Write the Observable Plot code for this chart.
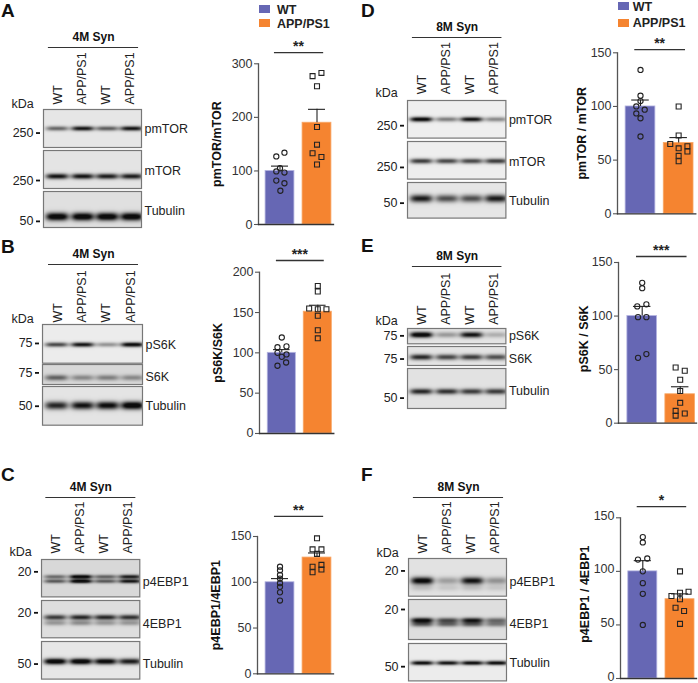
<!DOCTYPE html>
<html><head><meta charset="utf-8">
<script src="https://cdn.jsdelivr.net/npm/d3@7"></script>
<script src="https://cdn.jsdelivr.net/npm/@observablehq/plot@0.6"></script>
<style>
html,body{margin:0;padding:0;background:#fff}
#root{position:relative;width:698px;height:683px;overflow:hidden;font-family:"Liberation Sans",Arial,sans-serif;color:#222}
#root svg{overflow:visible;position:absolute;background:none}
.letter{position:absolute;font-weight:700;font-size:19px;line-height:20px;transform:translateY(-50%);color:#111}
.leg{position:absolute;font-weight:700;font-size:12.5px;line-height:14px;transform:translateY(-50%);color:#222}
.sw{position:absolute;width:11px;height:8px}
</style></head><body><div id="root"></div>
<script>
const genotypes = ["WT", "APP/PS1"];
const barColors = ["#6667b4", "#f58430"];
const barEdges = ["#b4b4e0", "#f8a868"];
const laneNames = ["WT", "APP/PS1", "WT", "APP/PS1"];
const laneLabelPos = [0.15, 0.39, 0.635, 0.88];
const laneCentres = [0.14, 0.40, 0.65, 0.90];

// bar heights, error tops, individual animals (value, sideways jitter in group steps)
const aMeans = [100, 190], aErr = [109, 215];
const aWt = [127, 134, 105, 99, 97, 82, 77, 63], aWtJ = [-.1, .12, 0, -.1, .12, -.1, .12, .01];
const aApp = [277, 283, 258, 182, 149, 133, 126, 112], aAppJ = [-.12, .12, 0, 0, 0, -.12, .12, 0];
const bMeans = [100, 151], bErr = [104, 159];
const bWt = [119, 107, 108, 100, 98, 84, 88, 95], bWtJ = [0, -.12, .13, -.12, .13, -.12, .12, 0];
const bApp = [183, 176, 155, 154, 154, 146, 128, 118], bAppJ = [0, 0, -.24, 0, .24, 0, 0, 0];
const cMeans = [100, 127], cErr = [104, 132];
const cWt = [117, 113, 108, 104, 99, 95, 89, 80], cWtJ = [0, 0, 0, 0, 0, 0, 0, 0];
const cApp = [148, 136, 136, 131, 117, 111, 119, 114], cAppJ = [0, -.12, .12, 0, -.12, -.12, .12, .12];
const dMeans = [100, 66], dErr = [106, 71];
const dWt = [134, 110, 105, 100, 97, 93.5, 89, 72], dWtJ = [0, 0, 0, -.11, .11, -.11, 0, 0];
const dApp = [100, 73, 65, 61, 63, 58, 54, 49], dAppJ = [0, 0, -.22, 0, .23, .23, 0, 0];
const eMeans = [100, 27], eErr = [109, 34];
const eWt = [131, 126, 109, 111, 99, 99, 61, 64.5], eWtJ = [0, 0, -.13, .11, -.11, .11, -.11, .11];
const eApp = [52, 49, 40.5, 30, 19, 11.5, 7, 9], eAppJ = [-.12, .12, 0, 0, 0, -.12, -.12, .12];
const fMeans = [100, 74], fErr = [110, 79];
const fWt = [132, 127, 111, 112, 100, 89, 79, 50], fWtJ = [0, 0, -.13, .12, 0, 0, 0, 0];
const fApp = [100, 77, 80, 81, 74, 66, 63, 51], fAppJ = [0, -.23, 0, .23, 0, -.12, .11, 0];

// y-axis ticks, labels and significance annotation
const aTicks = [0, 100, 200, 300], bTicks = [0, 50, 100, 150, 200], otherTicks = [0, 50, 100, 150];
const yLabels = ["pmTOR/mTOR", "pS6K/S6K", "p4EBP1/4EBP1", "pmTOR / mTOR", "pS6K / S6K", "p4EBP1 / 4EBP1"];
const stars = ["**", "***", "**", "**", "***", "*"];
const sigLevels = [321, 214.5, 172, 153, 155.6, 160.5];

// band strengths per lane on each membrane: row position, blur, four lanes
const blotA = [
 {name:"pmTOR",kda:"250",mark:.62,label:.5,bg:"#e6e6e6",bands:[[.5,1.6,[.6,1,.65,1]]]},
 {name:"mTOR",kda:"250",mark:.79,label:.54,bg:"#e4e4e4",bands:[[.68,1.9,[1,1,.95,.95]]]},
 {name:"Tubulin",kda:"50",mark:.83,label:.53,bg:"#e0e0e0",bands:[[.7,2.8,[1.2,1.2,1.2,1.2]]]}];
const blotB = [
 {name:"pS6K",kda:"75",mark:.49,label:.53,bg:"#ececec",bands:[[.52,1.6,[.75,1,.4,1.1]]]},
 {name:"S6K",kda:"75",mark:.42,label:.63,bg:"#d8d8d8",bands:[[.66,2,[.6,.4,.45,.4]]]},
 {name:"Tubulin",kda:"50",mark:.51,label:.51,bg:"#e4e4e4",bands:[[.49,2.8,[.9,1,1.05,1.2]]]}];
const blotC = [
 {name:"p4EBP1",kda:"20",mark:.33,label:.6,bg:"#d8d8d8",bands:[[.46,1.4,[.55,1.2,.6,.95]],[.58,1.4,[.65,1.2,.65,1]]]},
 {name:"4EBP1",kda:"20",mark:.33,label:.64,bg:"#dedede",bands:[[.45,1.8,[.8,.9,.9,.85]],[.6,1.8,[.35,.4,.35,.35]]]},
 {name:"Tubulin",kda:"50",mark:.6,label:.6,bg:"#e6e6e6",bands:[[.53,2.1,[1.2,1.2,1.1,.95]]]}];
const blotD = [
 {name:"pmTOR",kda:"250",mark:.67,label:.51,bg:"#efefef",bands:[[.5,1.7,[1.1,.5,1,.45]]]},
 {name:"mTOR",kda:"250",mark:.69,label:.54,bg:"#eeeeee",bands:[[.52,1.8,[.8,.75,.75,.8]]]},
 {name:"Tubulin",kda:"50",mark:.58,label:.52,bg:"#e6e6e6",bands:[[.45,2.7,[.95,.7,.7,.95]]]}];
const blotE = [
 {name:"pS6K",kda:"75",mark:.48,label:.5,bg:"#e4e4e4",bands:[[.41,2,[1.2,.35,1,.25]]]},
 {name:"S6K",kda:"75",mark:.66,label:.65,bg:"#e4e4e4",bands:[[.56,2,[.9,.75,.8,.7]]]},
 {name:"Tubulin",kda:"50",mark:.74,label:.575,bg:"#e2e2e2",bands:[[.575,2,[.9,.85,.8,.8]]]}];
const blotF = [
 {name:"p4EBP1",kda:"20",mark:.33,label:.62,bg:"#e2e2e2",bands:[[.59,2.6,[1.1,.32,1,.38]],[.78,2.2,[.15,.12,.15,.12]]]},
 {name:"4EBP1",kda:"20",mark:.25,label:.6,bg:"#dedede",bands:[[.52,1.8,[1.05,.7,.95,.55]],[.62,1.8,[.6,.55,.6,.45]]]},
 {name:"Tubulin",kda:"50",mark:.62,label:.53,bg:"#ececec",bands:[[.52,1.5,[1.05,1,1.05,1.05]]]}];

const root = document.getElementById("root");
const font = '"Liberation Sans",Arial,sans-serif';
function place(svg, left, top) {
  svg.style.left = left + "px"; svg.style.top = top + "px";
  root.appendChild(svg);
}
function html(cls, text, left, top, extra) {
  const d = document.createElement("div");
  d.className = cls; d.textContent = text || "";
  d.style.left = left + "px"; d.style.top = top + "px";
  if (extra) d.style.background = extra;
  root.appendChild(d);
}

function barPanel(o) {
  const left = o.axisX - 50, top = o.sigPx - 20;
  const width = o.baseEnd - left, height = o.y0 - top + 5;
  const marginLeft = o.axisX - left, marginTop = o.yTop - top, marginBottom = height - (o.y0 - top);
  const dots = (vals, jit, g) => vals.map((v, i) => ({x: g + jit[i], y: v}));
  const step = o.c1 - o.c0, axisU = (o.axisX - o.c0) / step;
  const plot = Plot.plot({
    width, height, marginLeft, marginRight: 0, marginTop, marginBottom,
    style: {fontFamily: font, overflow: "visible", background: "none"},
    x: {type: "linear", domain: [0, 1], range: [o.c0 - left, o.c1 - left], axis: null},
    y: {domain: [0, o.ticks[o.ticks.length - 1]], nice: false, axis: null},
    marks: [
      Plot.rectY(genotypes, {x1: (d, i) => i - .39, x2: (d, i) => i + .39, y1: 0, y2: (d, i) => o.means[i],
        fill: (d, i) => barColors[i], stroke: (d, i) => barEdges[i], strokeWidth: .8}),
      Plot.frame({anchor: "left", stroke: "#555", strokeWidth: 1.3}),
      Plot.frame({anchor: "bottom", stroke: "#333", strokeWidth: 1.3}),
      Plot.ruleY(o.ticks, {y: d => d, x1: axisU - 4 / step, x2: axisU, stroke: "#555", strokeWidth: 1.1}),
      Plot.text(o.ticks, {y: d => d, text: d => d, frameAnchor: "left", textAnchor: "end", lineAnchor: "middle", dx: -6, dy: o.tickDy || 0, fontSize: 12.5, fill: "#333"}),
      Plot.ruleX(genotypes, {x: (d, i) => i, y1: (d, i) => o.means[i], y2: (d, i) => o.err[i], stroke: "#222", strokeWidth: 1.1}),
      Plot.ruleY(genotypes, {y: (d, i) => o.err[i], x1: (d, i) => i - .23, x2: (d, i) => i + .23, stroke: "#222", strokeWidth: 1.1}),
      Plot.dot(dots(o.wt, o.wtJ, 0), {x: "x", y: "y", r: 2.6, stroke: "#222", strokeWidth: 1.1, fill: "none"}),
      Plot.dot(dots(o.app, o.appJ, 1), {x: "x", y: "y", r: 2.8, symbol: "square", stroke: "#222", strokeWidth: 1.1, fill: "none"}),
      Plot.ruleY([o.sig], {x1: -.15, x2: 1.18, stroke: "#333", strokeWidth: 1.3}),
      Plot.text([o.star], {x: .5, y: o.sig, text: d => d, dy: -6, fontSize: 14, fontWeight: 700, fill: "#222", lineAnchor: "middle"}),
      Plot.text([o.label], {text: d => d, frameAnchor: "left", dx: o.labelDx, dy: o.labelDy || 0, rotate: -90, fontSize: 12.5, fontWeight: 700, fill: "#111", textAnchor: "middle", lineAnchor: "middle"})
    ]
  });
  place(plot, left, top);
}

function membrane(m, box) {
  const [x0, x1, y0, y1] = box;
  const w = x1 - x0, h = y1 - y0, ml = 36, mr = 60;
  const field = (x, y) => {
    let s = 0;
    for (const [by, blur, lanes] of m.bands) {
      const dy = (y - by) * h / blur;
      lanes.forEach((a, i) => {
        const u = (x - laneCentres[i]) / .115;
        s += a * Math.exp(-u * u * u * u) * Math.exp(-.5 * dy * dy);
      });
    }
    return Math.min(1, s);
  };
  const plot = Plot.plot({
    width: w + ml + mr, height: h, marginLeft: ml, marginRight: mr, marginTop: 0, marginBottom: 0,
    style: {fontFamily: font, overflow: "visible", background: "none"},
    x: {domain: [0, 1], axis: null},
    y: {domain: [1, 0], axis: null},
    color: {type: "linear", domain: [0, 1], range: [m.bg, "#0c0c0c"]},
    marks: [
      Plot.raster({fill: field, x1: 0, x2: 1, y1: 0, y2: 1, pixelSize: 1}),
      Plot.frame({stroke: "#777", strokeWidth: 1.2}),
      Plot.ruleY([m.mark], {x1: -7 / w, x2: -3 / w, stroke: "#111", strokeWidth: 1.8}),
      Plot.text([m.kda], {y: m.mark, text: d => d, frameAnchor: "left", textAnchor: "end", dx: -10, fontSize: 12.5, fill: "#222", lineAnchor: "middle"}),
      Plot.text([m.name], {y: m.label, text: d => d, frameAnchor: "right", textAnchor: "start", dx: 3, fontSize: 12.5, fill: "#222", lineAnchor: "middle"})
    ]
  });
  place(plot, x0 - ml, y0);
}

function blotPanel(o) {
  const w = o.x1 - o.x0, h = o.labelBottom - o.rule;
  const plot = Plot.plot({
    width: w, height: h, marginLeft: 0, marginRight: 0, marginTop: 0, marginBottom: 0,
    style: {fontFamily: font, overflow: "visible", background: "none"},
    x: {domain: [0, 1], axis: null},
    y: {domain: [0, 1], axis: null},
    marks: [
      Plot.ruleY([1], {x1: o.r0, x2: o.r1, stroke: "#333", strokeWidth: 1.1}),
      Plot.text(["4M"], {text: () => o.title, x: (o.r0 + o.r1) / 2, frameAnchor: "top", dy: -10, lineAnchor: "middle", fontSize: 12, fontWeight: 700, fill: "#111"}),
      Plot.text(laneNames, {x: (d, i) => laneLabelPos[i], text: d => d, rotate: -90, frameAnchor: "bottom", textAnchor: "start", lineAnchor: "middle", fontSize: 12.5, fill: "#222"}),
      Plot.text(["kDa"], {text: d => d, frameAnchor: "bottom-left", dx: o.kdaDx, dy: o.kdaDy, textAnchor: "middle", lineAnchor: "middle", fontSize: 12.5, fill: "#222"})
    ]
  });
  place(plot, o.x0, o.rule);
  o.blots.forEach((m, i) => membrane(m, [o.x0, o.x1, ...o.rows[i]]));
}

blotPanel({title:"4M Syn",x0:43,x1:141,rule:47,labelBottom:104,r0:.05,r1:.97,kdaDx:-21,kdaDy:-1,blots:blotA,rows:[[109,147],[150,188],[191,227]]});
blotPanel({title:"4M Syn",x0:42,x1:142,rule:263.7,labelBottom:321.7,r0:.06,r1:.96,kdaDx:-20,kdaDy:-4,blots:blotB,rows:[[324,362.7],[364.3,384.3],[386,424.7]]});
blotPanel({title:"4M Syn",x0:40.7,x1:139,rule:496.7,labelBottom:552.7,r0:.044,r1:.96,kdaDx:-21,kdaDy:-1,blots:blotC,rows:[[559.3,596.7],[600,637.3],[640.7,678.3]]});
blotPanel({title:"8M Syn",x0:407.3,x1:505.7,rule:37.3,labelBottom:94,r0:.05,r1:.96,kdaDx:-21,kdaDy:-1.3,blots:blotD,rows:[[99.7,137.3],[140.7,178.3],[181.7,217.3]]});
blotPanel({title:"8M Syn",x0:407.3,x1:505.7,rule:266,labelBottom:324.3,r0:.05,r1:.96,kdaDx:-21,kdaDy:-3.6,blots:blotE,rows:[[327.7,343],[346,365],[368,408]]});
blotPanel({title:"8M Syn",x0:407.7,x1:505.7,rule:496.7,labelBottom:552.7,r0:.05,r1:.97,kdaDx:-21,kdaDy:-1,blots:blotF,rows:[[558.3,596],[599.3,639.3],[643.3,680.7]]});

barPanel({axisX:258,baseEnd:333,y0:224,yTop:63.3,sigPx:52,c0:279.5,c1:316.5,means:aMeans,err:aErr,wt:aWt,wtJ:aWtJ,app:aApp,appJ:aAppJ,ticks:aTicks,sig:sigLevels[0],star:stars[0],label:yLabels[0],labelDx:-41.3});
barPanel({axisX:258.7,baseEnd:333,y0:433,yTop:271.7,sigPx:260,c0:281,c1:317,means:bMeans,err:bErr,wt:bWt,wtJ:bWtJ,app:bApp,appJ:bAppJ,ticks:bTicks,sig:sigLevels[1],star:stars[1],label:yLabels[1],labelDx:-41.7});
barPanel({axisX:257,baseEnd:333,y0:673,yTop:535.7,sigPx:515.7,c0:279.5,c1:316.5,means:cMeans,err:cErr,wt:cWt,wtJ:cWtJ,app:cApp,appJ:cAppJ,ticks:otherTicks,sig:sigLevels[2],star:stars[2],label:yLabels[2],labelDx:-42});
barPanel({axisX:616.7,baseEnd:695,y0:213,yTop:52,sigPx:48.7,c0:639.7,c1:677.85,means:dMeans,err:dErr,wt:dWt,wtJ:dWtJ,app:dApp,appJ:dAppJ,ticks:otherTicks,sig:sigLevels[3],star:stars[3],label:yLabels[3],labelDx:-35.7});
barPanel({axisX:618,baseEnd:696,y0:422.7,yTop:262,sigPx:256,c0:641.7,c1:679.7,means:eMeans,err:eErr,wt:eWt,wtJ:eWtJ,app:eApp,appJ:eAppJ,ticks:otherTicks,sig:sigLevels[4],star:stars[4],label:yLabels[4],labelDx:-34.7,labelDy:-4});
barPanel({axisX:620,baseEnd:696,y0:677.7,yTop:517,sigPx:505.7,c0:642.3,c1:679.5,means:fMeans,err:fErr,wt:fWt,wtJ:fWtJ,app:fApp,appJ:fAppJ,ticks:otherTicks,sig:sigLevels[5],star:stars[5],label:yLabels[5],labelDx:-36,labelDy:-4,tickDy:-2});

[["A",1,10.7],["B",1,246.5],["C",1,475],["D",361,10.7],["E",361,246],["F",361,475]].forEach(l => html("letter", l[0], l[1], l[2]));
[[259,5,277,9.5,0],[259,19,277,23.5,1],[618,2,632.7,7,0],[618,19,632.7,23,1]].forEach(l => {
  html("sw", "", l[0], l[1], barColors[l[4]]);
  html("leg", genotypes[l[4]], l[2], l[3]);
});
</script></body></html>
